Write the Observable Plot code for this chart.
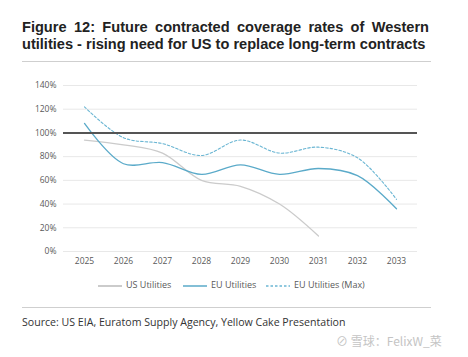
<!DOCTYPE html>
<html><head><meta charset="utf-8">
<script src="https://cdn.jsdelivr.net/npm/d3@7"></script>
<script src="https://cdn.jsdelivr.net/npm/@observablehq/plot@0.6"></script>
<style>
body{margin:0;width:468px;height:357px;background:#fff;position:relative;overflow:hidden;font-family:"Open Sans",sans-serif;}
.t{position:absolute;left:22px;font-family:"Liberation Sans",Arial,sans-serif;font-weight:700;font-size:14px;color:#222;line-height:15px;white-space:nowrap;}
#t1{top:20px;width:407px;text-align:justify;text-align-last:justify;white-space:normal;}
#t2{top:37px;}
.hr{position:absolute;left:22px;width:409px;height:1px;background:#cfcfcf;}
#chart{position:absolute;left:0;top:75px;}
#legend{position:absolute;top:278px;left:0;width:468px;font-size:9px;color:#595959;}
.li{position:absolute;top:0;white-space:nowrap;}
.li svg{vertical-align:middle;margin-right:4px;}
#src{position:absolute;left:22px;top:315px;font-size:10.6px;color:#333;}
#wm{position:absolute;left:336px;top:332px;font-size:12px;color:#c4c4c4;font-family:"Noto Sans CJK SC",sans-serif;}
</style></head>
<body>
<div class="t" id="t1">Figure 12: Future contracted coverage rates of Western</div>
<div class="t" id="t2">utilities - rising need for US to replace long-term contracts</div>
<div class="hr" style="top:61px"></div>
<div id="chart"></div>
<div id="legend"></div>
<div class="hr" style="top:307px"></div>
<div id="src">Source: US EIA, Euratom Supply Agency, Yellow Cake Presentation</div>
<div id="wm">⊘ 雪球：FelixW_菜</div>
<script>
const years = ["2025","2026","2027","2028","2029","2030","2031","2032","2033"];
const usUtilities = [94, 90, 83, 60, 55, 40, 13, null, null];
const euUtilities = [108, 74, 75, 65, 73, 65, 70, 64, 36];
const euUtilitiesMax = [122, 96, 91, 81, 94, 83, 88, 79, 44];
const yTicks = [0, 20, 40, 60, 80, 100, 120, 140];
const seriesNames = ["US Utilities", "EU Utilities", "EU Utilities (Max)"];
const colors = {"US Utilities": "#cbcbcb", "EU Utilities": "#5aaac9", "EU Utilities (Max)": "#6bb6d3"};

// fit title width (line 2 spans ~404px in the reference)
const t2 = document.getElementById("t2");
const w = t2.getBoundingClientRect().width;
const fs = Math.min(15, 14 * 404 / w);
t2.style.fontSize = fs + "px";
document.getElementById("t1").style.fontSize = fs + "px";

const rows = [];
[usUtilities, euUtilities, euUtilitiesMax].forEach((arr, i) => {
  arr.forEach((v, j) => { if (v != null) rows.push({series: seriesNames[i], year: years[j], value: v}); });
});

const chart = Plot.plot({
  width: 468, height: 200,
  marginLeft: 63, marginRight: 51, marginTop: 10, marginBottom: 24,
  style: {fontFamily: "Open Sans, sans-serif", fontSize: "8.5px", color: "#595959", background: "transparent"},
  x: {type: "point", domain: years, padding: 0.5, label: null},
  y: {domain: [0, 140], label: null},
  marks: [
    Plot.ruleY(yTicks.filter(d => d !== 100), {stroke: "#e8e8e8", strokeWidth: 1}),
    Plot.axisY({ticks: yTicks, tickFormat: d => d + "%", tickSize: 0, tickPadding: 7, label: null}),
    Plot.axisX({tickSize: 0, tickPadding: 6, label: null}),
    Plot.line(rows.filter(d => d.series === "US Utilities"), {x: "year", y: "value", stroke: colors["US Utilities"], strokeWidth: 1.3, curve: "catmull-rom"}),
    Plot.line(rows.filter(d => d.series === "EU Utilities"), {x: "year", y: "value", stroke: colors["EU Utilities"], strokeWidth: 1.3, curve: "catmull-rom"}),
    Plot.line(rows.filter(d => d.series === "EU Utilities (Max)"), {x: "year", y: "value", stroke: colors["EU Utilities (Max)"], strokeWidth: 1.1, strokeDasharray: "2.5,2", curve: "catmull-rom"}),
    Plot.ruleY([100], {stroke: "#555", strokeWidth: 2})
  ]
});
document.getElementById("chart").appendChild(chart);

const legend = document.getElementById("legend");
const lx = [98, 183, 266];
seriesNames.forEach((s, i) => {
  const d = document.createElement("div");
  d.className = "li";
  d.style.left = lx[i] + "px";
  const dash = i === 2 ? 'stroke-dasharray="2.5,2"' : '';
  d.innerHTML = `<svg width="24" height="4"><line x1="0" y1="2" x2="24" y2="2" stroke="${colors[s]}" stroke-width="${i===0?2:1.5}" ${dash}/></svg>${s}`;
  legend.appendChild(d);
});
</script>
</body></html>
